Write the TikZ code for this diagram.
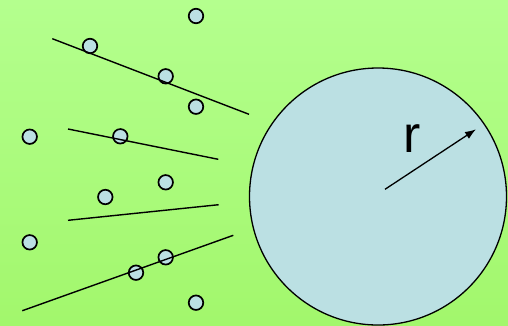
\documentclass[tikz,border=0pt]{standalone}
\usepackage{fontspec}
\setmainfont{Liberation Sans}
\usetikzlibrary{arrows.meta}
\definecolor{bgtop}{RGB}{180,255,142}
\definecolor{bgbot}{RGB}{162,247,108}
\definecolor{disc}{RGB}{187,224,227}

\begin{document}
\begin{tikzpicture}[x=1bp,y=-1bp,
    every node/.style={inner sep=0pt},
    pt/.style={circle,draw,line width=1.7bp,fill=disc,minimum size=14.5bp},
    cut/.style={line width=1.4bp}]
  % background
  \shade[top color=bgtop,bottom color=bgbot] (0,0) rectangle (508,325);
  \useasboundingbox (0,0) rectangle (508,325);
  % the big disc and its radius
  \node[circle,draw,line width=1.3bp,fill=disc,minimum size=257bp] (big) at (378,196.5) {};
  \coordinate (rfoot) at (385,189.3);
  \coordinate (rtip) at (476,129.3);
  \draw[line width=1.3bp,-{Latex[length=11bp,width=8bp]}] (rfoot) -- (rtip);
  \node[font=\fontsize{52}{60}\selectfont] (rlbl) at (412.5,138.5) {r};
  % sample points
  \foreach \x/\y [count=\i] in {196/16, 90/46, 165.7/76.3, 196/106.7, 29.7/136.7,
      120.3/136.3, 165.7/182.3, 105.3/197, 29.7/242.3, 165.7/257.3, 136/272.7, 196/302.7}
    \node[pt] (p\i) at (\x,\y) {};
  % candidate lines
  \draw[cut] (52.3,38.7) -- (249,114.3);
  \draw[cut] (68,129) -- (218.3,159.3);
  \draw[cut] (68,220.3) -- (218.7,204.7);
  \draw[cut] (22.3,310.7) -- (233.3,235.3);
\end{tikzpicture}
\end{document}
